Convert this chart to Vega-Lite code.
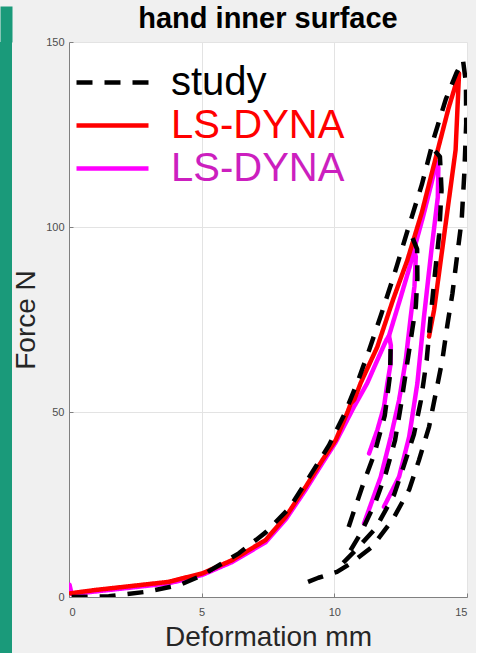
{
  "$schema": "https://vega.github.io/schema/vega-lite/v6.json",
  "background": "#f0f0f0",
  "padding": {"left": 0, "top": 0, "right": 8, "bottom": 0},
  "spacing": 0,
  "config": {
    "view": {"stroke": null},
    "font": "Liberation Sans"
  },
  "resolve": {"legend": {"color": "independent", "strokeDash": "independent"}},
  "datasets": {
    "curves": [
      {"s":"study","g":"s1","i":1,"x":0.1,"y":0},
      {"s":"study","g":"s1","i":2,"x":1.5,"y":0.2},
      {"s":"study","g":"s1","i":3,"x":2.9,"y":1.4},
      {"s":"study","g":"s1","i":4,"x":4.15,"y":3.2},
      {"s":"study","g":"s1","i":5,"x":5.0,"y":5.8},
      {"s":"study","g":"s1","i":6,"x":6.4,"y":11.8},
      {"s":"study","g":"s1","i":7,"x":7.4,"y":17.4},
      {"s":"study","g":"s1","i":8,"x":8.3,"y":24},
      {"s":"study","g":"s1","i":9,"x":9.05,"y":32.4},
      {"s":"study","g":"s1","i":10,"x":9.8,"y":41},
      {"s":"study","g":"s1","i":11,"x":10.4,"y":49.7},
      {"s":"study","g":"s1","i":12,"x":10.9,"y":58.6},
      {"s":"study","g":"s1","i":13,"x":11.3,"y":66.5},
      {"s":"study","g":"s1","i":14,"x":11.75,"y":76},
      {"s":"study","g":"s1","i":15,"x":12.25,"y":87},
      {"s":"study","g":"s1","i":16,"x":12.8,"y":100},
      {"s":"study","g":"s1","i":17,"x":13.3,"y":111.5},
      {"s":"study","g":"s1","i":18,"x":13.75,"y":124},
      {"s":"study","g":"s1","i":19,"x":14.2,"y":134.5},
      {"s":"study","g":"s1","i":20,"x":14.6,"y":141.6},
      {"s":"study","g":"s1","i":21,"x":14.85,"y":145},
      {"s":"study","g":"s1","i":22,"x":14.96,"y":139},
      {"s":"study","g":"s1","i":23,"x":14.97,"y":128},
      {"s":"study","g":"s1","i":24,"x":14.9,"y":114.6},
      {"s":"study","g":"s1","i":25,"x":14.8,"y":102},
      {"s":"study","g":"s1","i":26,"x":14.64,"y":92.9},
      {"s":"study","g":"s1","i":27,"x":14.45,"y":82},
      {"s":"study","g":"s1","i":28,"x":14.26,"y":73.5},
      {"s":"study","g":"s1","i":29,"x":14.07,"y":64},
      {"s":"study","g":"s1","i":30,"x":13.82,"y":55},
      {"s":"study","g":"s1","i":31,"x":13.57,"y":46},
      {"s":"study","g":"s1","i":32,"x":13.19,"y":37},
      {"s":"study","g":"s1","i":33,"x":12.82,"y":29},
      {"s":"study","g":"s1","i":34,"x":12.19,"y":20.8},
      {"s":"study","g":"s1","i":35,"x":11.43,"y":13.6},
      {"s":"study","g":"s1","i":36,"x":10.62,"y":9.1},
      {"s":"study","g":"s1","i":37,"x":10.1,"y":6.8},
      {"s":"study","g":"s1","i":38,"x":9.4,"y":5.2},
      {"s":"study","g":"s1","i":39,"x":8.8,"y":3.5},
      {"s":"study","g":"s2","i":40,"x":13.8,"y":120.5},
      {"s":"study","g":"s2","i":41,"x":13.98,"y":119},
      {"s":"study","g":"s2","i":42,"x":14.04,"y":110},
      {"s":"study","g":"s2","i":43,"x":13.95,"y":98},
      {"s":"study","g":"s2","i":44,"x":13.8,"y":88},
      {"s":"study","g":"s2","i":45,"x":13.62,"y":75},
      {"s":"study","g":"s2","i":46,"x":13.48,"y":64},
      {"s":"study","g":"s2","i":47,"x":13.26,"y":53},
      {"s":"study","g":"s2","i":48,"x":13.0,"y":44},
      {"s":"study","g":"s2","i":49,"x":12.63,"y":35.7},
      {"s":"study","g":"s2","i":50,"x":12.25,"y":27.6},
      {"s":"study","g":"s2","i":51,"x":11.56,"y":18.6},
      {"s":"study","g":"s2","i":52,"x":10.81,"y":12.7},
      {"s":"study","g":"s2","i":53,"x":10.3,"y":9},
      {"s":"study","g":"s3","i":54,"x":12.95,"y":97},
      {"s":"study","g":"s3","i":55,"x":13.12,"y":94},
      {"s":"study","g":"s3","i":56,"x":13.13,"y":86},
      {"s":"study","g":"s3","i":57,"x":13.07,"y":78.5},
      {"s":"study","g":"s3","i":58,"x":12.88,"y":69.5},
      {"s":"study","g":"s3","i":59,"x":12.69,"y":60.5},
      {"s":"study","g":"s3","i":60,"x":12.5,"y":51.4},
      {"s":"study","g":"s3","i":61,"x":12.29,"y":42.4},
      {"s":"study","g":"s3","i":62,"x":11.94,"y":33.4},
      {"s":"study","g":"s3","i":63,"x":11.56,"y":25.8},
      {"s":"study","g":"s3","i":64,"x":11.0,"y":17.3},
      {"s":"study","g":"s3","i":65,"x":10.6,"y":12.5},
      {"s":"study","g":"s4","i":66,"x":12.12,"y":67},
      {"s":"study","g":"s4","i":67,"x":12.1,"y":60},
      {"s":"study","g":"s4","i":68,"x":11.9,"y":49},
      {"s":"study","g":"s4","i":69,"x":11.5,"y":38.5},
      {"s":"study","g":"s4","i":70,"x":11.1,"y":30.8},
      {"s":"study","g":"s4","i":71,"x":10.7,"y":22.4},
      {"s":"study","g":"s4","i":72,"x":10.45,"y":17},
      {"s":"LS-DYNA","g":"r","i":100,"x":0.06,"y":1.0},
      {"s":"LS-DYNA","g":"r","i":101,"x":1.0,"y":1.9},
      {"s":"LS-DYNA","g":"r","i":102,"x":2.14,"y":2.8},
      {"s":"LS-DYNA","g":"r","i":103,"x":3.77,"y":4.1},
      {"s":"LS-DYNA","g":"r","i":104,"x":5.03,"y":6.4},
      {"s":"LS-DYNA","g":"r","i":105,"x":6.16,"y":10},
      {"s":"LS-DYNA","g":"r","i":106,"x":7.41,"y":15.4},
      {"s":"LS-DYNA","g":"r","i":107,"x":8.17,"y":21.7},
      {"s":"LS-DYNA","g":"r","i":108,"x":8.92,"y":29.8},
      {"s":"LS-DYNA","g":"r","i":109,"x":9.55,"y":37},
      {"s":"LS-DYNA","g":"r","i":110,"x":10.05,"y":42.4},
      {"s":"LS-DYNA","g":"r","i":111,"x":10.5,"y":50},
      {"s":"LS-DYNA","g":"r","i":112,"x":10.62,"y":52.3},
      {"s":"LS-DYNA","g":"r","i":113,"x":10.75,"y":53.3},
      {"s":"LS-DYNA","g":"r","i":114,"x":10.99,"y":57.8},
      {"s":"LS-DYNA","g":"r","i":115,"x":11.62,"y":67.6},
      {"s":"LS-DYNA","g":"r","i":116,"x":12.22,"y":80.5},
      {"s":"LS-DYNA","g":"r","i":117,"x":12.75,"y":91},
      {"s":"LS-DYNA","g":"r","i":118,"x":13.3,"y":104},
      {"s":"LS-DYNA","g":"r","i":119,"x":13.85,"y":119.5},
      {"s":"LS-DYNA","g":"r","i":120,"x":14.3,"y":132},
      {"s":"LS-DYNA","g":"r","i":121,"x":14.7,"y":141.5},
      {"s":"LS-DYNA","g":"r","i":122,"x":14.57,"y":120.8},
      {"s":"LS-DYNA","g":"r","i":123,"x":14.18,"y":100},
      {"s":"LS-DYNA","g":"r","i":124,"x":13.76,"y":77.6},
      {"s":"LS-DYNA","g":"r","i":125,"x":13.57,"y":70.4},
      {"s":"LS-DYNA 2","g":"m1","i":200,"x":0.02,"y":3.3},
      {"s":"LS-DYNA 2","g":"m1","i":201,"x":0.1,"y":0.8},
      {"s":"LS-DYNA 2","g":"m1","i":202,"x":1.0,"y":1.5},
      {"s":"LS-DYNA 2","g":"m1","i":203,"x":2.14,"y":2.4},
      {"s":"LS-DYNA 2","g":"m1","i":204,"x":3.77,"y":3.7},
      {"s":"LS-DYNA 2","g":"m1","i":205,"x":5.03,"y":6},
      {"s":"LS-DYNA 2","g":"m1","i":206,"x":6.16,"y":9.5},
      {"s":"LS-DYNA 2","g":"m1","i":207,"x":7.41,"y":14.8},
      {"s":"LS-DYNA 2","g":"m1","i":208,"x":8.17,"y":21},
      {"s":"LS-DYNA 2","g":"m1","i":209,"x":8.92,"y":29},
      {"s":"LS-DYNA 2","g":"m1","i":210,"x":9.55,"y":36.2},
      {"s":"LS-DYNA 2","g":"m1","i":211,"x":10.05,"y":41.8},
      {"s":"LS-DYNA 2","g":"m1","i":212,"x":10.74,"y":51.4},
      {"s":"LS-DYNA 2","g":"m1","i":213,"x":11.24,"y":57.8},
      {"s":"LS-DYNA 2","g":"m1","i":214,"x":11.65,"y":64.5},
      {"s":"LS-DYNA 2","g":"m1","i":215,"x":11.95,"y":69.3},
      {"s":"LS-DYNA 2","g":"m1","i":216,"x":12.06,"y":70.6},
      {"s":"LS-DYNA 2","g":"m1","i":217,"x":12.13,"y":68},
      {"s":"LS-DYNA 2","g":"m1","i":218,"x":12.12,"y":63},
      {"s":"LS-DYNA 2","g":"m1","i":219,"x":12.0,"y":57.8},
      {"s":"LS-DYNA 2","g":"m1","i":220,"x":11.87,"y":51.4},
      {"s":"LS-DYNA 2","g":"m1","i":221,"x":11.62,"y":45.1},
      {"s":"LS-DYNA 2","g":"m1","i":222,"x":11.31,"y":38.8},
      {"s":"LS-DYNA 2","g":"m2","i":230,"x":12.06,"y":70.6},
      {"s":"LS-DYNA 2","g":"m2","i":231,"x":12.5,"y":81},
      {"s":"LS-DYNA 2","g":"m2","i":232,"x":12.85,"y":89.5},
      {"s":"LS-DYNA 2","g":"m2","i":233,"x":13.0,"y":93.8},
      {"s":"LS-DYNA 2","g":"m2","i":234,"x":13.07,"y":92},
      {"s":"LS-DYNA 2","g":"m2","i":235,"x":13.02,"y":84},
      {"s":"LS-DYNA 2","g":"m2","i":236,"x":12.88,"y":75.8},
      {"s":"LS-DYNA 2","g":"m2","i":237,"x":12.69,"y":64},
      {"s":"LS-DYNA 2","g":"m2","i":238,"x":12.44,"y":53.2},
      {"s":"LS-DYNA 2","g":"m2","i":239,"x":12.13,"y":43.3},
      {"s":"LS-DYNA 2","g":"m2","i":240,"x":11.75,"y":32.5},
      {"s":"LS-DYNA 2","g":"m2","i":241,"x":11.12,"y":19.9},
      {"s":"LS-DYNA 2","g":"m3","i":250,"x":13.0,"y":93.8},
      {"s":"LS-DYNA 2","g":"m3","i":251,"x":13.35,"y":103},
      {"s":"LS-DYNA 2","g":"m3","i":252,"x":13.65,"y":111.5},
      {"s":"LS-DYNA 2","g":"m3","i":253,"x":13.85,"y":117.5},
      {"s":"LS-DYNA 2","g":"m3","i":254,"x":13.92,"y":116},
      {"s":"LS-DYNA 2","g":"m3","i":255,"x":13.9,"y":108},
      {"s":"LS-DYNA 2","g":"m3","i":256,"x":13.66,"y":93.8},
      {"s":"LS-DYNA 2","g":"m3","i":257,"x":13.38,"y":75.8},
      {"s":"LS-DYNA 2","g":"m3","i":258,"x":13.13,"y":57.8},
      {"s":"LS-DYNA 2","g":"m3","i":259,"x":12.82,"y":43.3},
      {"s":"LS-DYNA 2","g":"m3","i":260,"x":12.44,"y":32.5},
      {"s":"LS-DYNA 2","g":"m3","i":261,"x":11.87,"y":24.4}
    ]
  },
  "hconcat": [
    {
      "width": 12,
      "height": 611,
      "data": {"values": [{"v": 0.5}]},
      "mark": {"type": "text", "text": ""},
      "encoding": {
        "x": {
          "field": "v", "type": "quantitative",
          "scale": {"domain": [0, 1], "nice": false, "zero": false},
          "axis": {
            "orient": "top", "values": [0.5], "title": null, "labels": false, "domain": false, "grid": false,
            "ticks": true, "tickSize": 36, "tickWidth": 12, "tickColor": "#1a9a7a", "tickCap": "butt"
          }
        }
      },
      "view": {"fill": "#1a9a7a", "stroke": null}
    },
    {
      "width": 398,
      "height": 555,
      "view": {"fill": "white", "stroke": null},
      "title": {
        "text": "hand inner surface",
        "font": "Liberation Sans",
        "fontSize": 29,
        "fontWeight": "bold",
        "color": "#000000",
        "anchor": "middle",
        "frame": "group",
        "offset": 2
      },
      "data": {"name": "curves"},
      "encoding": {
        "x": {
          "field": "x", "type": "quantitative",
          "scale": {"domain": [0, 15], "nice": false, "zero": false},
          "axis": {
            "title": "Deformation mm", "values": [0, 5, 10, 15], "format": "d",
            "grid": true, "gridColor": "#e3e3e3", "gridWidth": 1,
            "domainColor": "#808080", "tickColor": "#808080", "tickSize": -4,
            "labelFont": "Liberation Sans", "labelFontSize": 11, "labelColor": "#4d4d4d", "labelPadding": 13,
            "titleFont": "Liberation Sans", "titleFontSize": 28, "titleFontWeight": "normal", "titleColor": "#262626", "titlePadding": 6
          }
        },
        "y": {
          "field": "y", "type": "quantitative",
          "scale": {"domain": [0, 150], "nice": false, "zero": false},
          "axis": {
            "title": "Force N", "values": [0, 50, 100, 150], "format": "d",
            "grid": true, "gridColor": "#e3e3e3", "gridWidth": 1,
            "domainColor": "#808080", "tickColor": "#808080", "tickSize": -4,
            "labelFont": "Liberation Sans", "labelFontSize": 11, "labelColor": "#4d4d4d", "labelPadding": 9,
            "titleFont": "Liberation Sans", "titleFontSize": 28, "titleFontWeight": "normal", "titleColor": "#262626", "titlePadding": 5
          }
        },
        "color": {
          "field": "s", "type": "nominal",
          "scale": {"domain": ["study", "LS-DYNA", "LS-DYNA 2"], "range": ["#000000", "#ff0000", "#ff00ff"]},
          "legend": {
            "title": null, "orient": "none", "legendX": 5, "legendY": 19,
            "symbolType": "stroke", "symbolSize": 5184, "symbolStrokeWidth": 4.5, "clipHeight": 43,
            "labelFont": "Liberation Sans", "labelFontSize": 40, "labelLimit": 400, "labelOffset": 20,
            "labelExpr": "datum.label == 'LS-DYNA 2' ? 'LS-DYNA' : datum.label",
            "labelColor": {"expr": "datum.value == 'study' ? '#000000' : datum.value == 'LS-DYNA' ? '#ff0000' : '#cc1fbf'"},
            "rowPadding": 0, "padding": 0
          }
        },
        "strokeDash": {
          "field": "s", "type": "nominal",
          "scale": {"domain": ["study", "LS-DYNA", "LS-DYNA 2"], "range": [[16, 12], [1, 0], [1, 0]]},
          "legend": {
            "title": null, "orient": "none", "legendX": 5, "legendY": 19,
            "symbolType": "stroke", "symbolSize": 5184, "symbolStrokeWidth": 4.5, "clipHeight": 43,
            "labelFont": "Liberation Sans", "labelFontSize": 40, "labelLimit": 400, "labelOffset": 20,
            "labelExpr": "datum.label == 'LS-DYNA 2' ? 'LS-DYNA' : datum.label",
            "labelColor": {"expr": "datum.value == 'study' ? '#000000' : datum.value == 'LS-DYNA' ? '#ff0000' : '#cc1fbf'"},
            "rowPadding": 0, "padding": 0
          }
        },
        "detail": {"field": "g"},
        "order": {"field": "i", "type": "quantitative"}
      },
      "layer": [
        {
          "transform": [{"filter": "datum.s == 'LS-DYNA 2'"}],
          "mark": {"type": "line", "strokeWidth": 4.5, "strokeCap": "round", "strokeJoin": "round", "clip": true}
        },
        {
          "transform": [{"filter": "datum.s == 'LS-DYNA'"}],
          "mark": {"type": "line", "strokeWidth": 4.5, "strokeCap": "round", "strokeJoin": "round", "clip": true}
        },
        {
          "transform": [{"filter": "datum.s == 'study'"}],
          "mark": {"type": "line", "strokeWidth": 4.5, "strokeCap": "butt", "strokeJoin": "round", "clip": true}
        }
      ]
    }
  ]
}
